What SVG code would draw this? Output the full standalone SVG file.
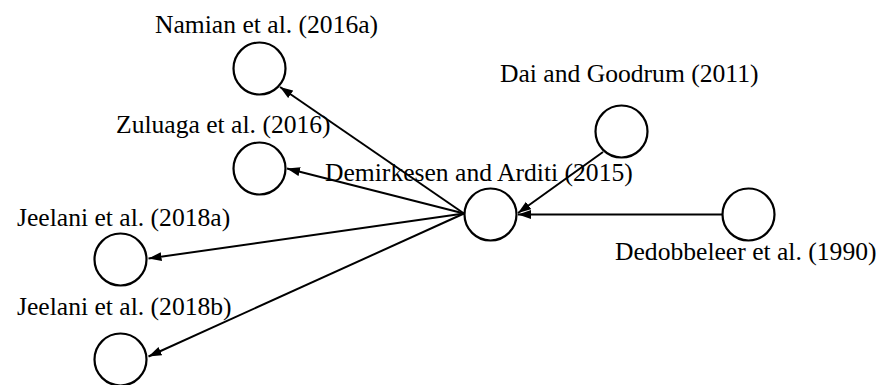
<svg xmlns="http://www.w3.org/2000/svg" width="883" height="385" viewBox="0 0 883 385">
  <style>
    .node circle { fill: #fff; stroke: #000; stroke-width: 2.2; }
    .label { font-family: "Liberation Serif", "Times New Roman", serif; font-size: 25.6px; fill: #000; }
    .edge { stroke: #000; stroke-width: 2; fill: none; marker-end: url(#arrow); }
  </style>
  <defs>
    <marker id="arrow" markerUnits="userSpaceOnUse" markerWidth="14" markerHeight="10" refX="13" refY="4.5" orient="auto">
      <path d="M0,0 L13,4.5 L0,9 z" fill="#000"/>
    </marker>
  </defs>

  <!-- connectors -->
  <g id="edges">
    <line class="edge" x1="464" y1="213.5" x2="280" y2="87"/>
    <line class="edge" x1="464" y1="213.5" x2="287" y2="168.5"/>
    <line class="edge" x1="464" y1="213.5" x2="148.5" y2="258.5"/>
    <line class="edge" x1="464" y1="213.5" x2="148.5" y2="356.5"/>
    <line class="edge" x1="603" y1="152" x2="518" y2="213"/>
    <line class="edge" x1="722" y1="214.5" x2="518" y2="214.5"/>
  </g>

  <!-- nodes -->
  <g id="namian2016a" class="node">
    <circle cx="259.5" cy="68.5" r="26"/>
    <text class="label" x="155" y="33">Namian et al. (2016a)</text>
  </g>
  <g id="zuluaga2016" class="node">
    <circle cx="259.5" cy="168.5" r="26"/>
    <text class="label" x="116" y="133">Zuluaga et al. (2016)</text>
  </g>
  <g id="demirkesen2015" class="node">
    <circle cx="490.5" cy="214.5" r="26"/>
    <text class="label" x="325" y="181">Demirkesen and Arditi (2015)</text>
  </g>
  <g id="dai2011" class="node">
    <circle cx="621.5" cy="131.5" r="26"/>
    <text class="label" x="500" y="82">Dai and Goodrum (2011)</text>
  </g>
  <g id="dedobbeleer1990" class="node">
    <circle cx="748.5" cy="214.5" r="26"/>
    <text class="label" x="615" y="260">Dedobbeleer et al. (1990)</text>
  </g>
  <g id="jeelani2018a" class="node">
    <circle cx="120.5" cy="259.5" r="26"/>
    <text class="label" x="17" y="226">Jeelani et al. (2018a)</text>
  </g>
  <g id="jeelani2018b" class="node">
    <circle cx="120.5" cy="359.5" r="26"/>
    <text class="label" x="17" y="315">Jeelani et al. (2018b)</text>
  </g>
</svg>
